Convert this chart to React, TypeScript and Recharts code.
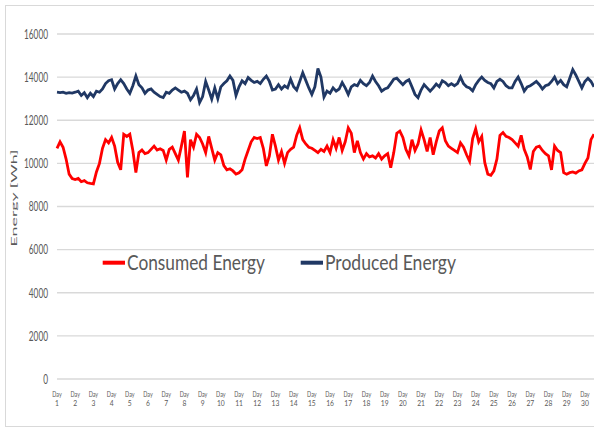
import React from 'react';
import { LineChart, Line, XAxis, YAxis, CartesianGrid, Legend } from 'recharts';

// 6 samples per day (every 4 hours), Day 1 .. Day 30 (+ a little)
const produced: number[] = [
  13300, 13280, 13300, 13250, 13280, 13260,
  13300, 13350, 13150, 13280, 13050, 13250,
  13100, 13350, 13300, 13450, 13700, 13830,
  13880, 13450, 13700, 13880, 13700, 13450,
  13250, 13600, 14050, 13650, 13500, 13250,
  13400, 13450, 13300, 13200, 13100, 13050,
  13300, 13250, 13400, 13500, 13400, 13300,
  13350, 13250, 12950, 13150, 13450, 12820,
  13100, 13800, 13400, 12980, 13500, 13000,
  13550, 13700, 13830, 14050, 13850, 13150,
  13550, 13830, 13700, 13980, 13850, 13750,
  13800, 13700, 13900, 14050, 13800, 13400,
  13450, 13650, 13450, 13600, 13500, 13900,
  13550, 13400, 13800, 14200, 13850, 13500,
  13200, 13550, 14400, 14000, 13080, 13350,
  13250, 13500, 13350, 13450, 13750, 13500,
  13200, 13550, 13650, 13600, 13850, 13700,
  13600, 13750, 14050, 13800, 13600, 13350,
  13450, 13500, 13700, 13900, 13950, 13800,
  13650, 13800, 13880, 13550, 13200, 13050,
  13400, 13650, 13500, 13350, 13500, 13680,
  13550, 13830, 13750, 13600, 13700, 13600,
  13700, 14000, 13700, 13550, 13500, 13360,
  13650, 13850, 14000, 13850, 13750, 13700,
  13500, 13800, 13900, 13800, 13600, 13500,
  13500, 13800, 14000, 13700, 13350, 13550,
  13600, 13700, 13800, 13650, 13450, 13600,
  13650, 13800, 14000, 13700, 13850, 13650,
  13550, 13950, 14350, 14100, 13800, 13500,
  13800, 13950, 13800, 13550,
];

const consumed: number[] = [
  10700, 11000, 10750, 10200, 9500, 9300,
  9250, 9300, 9150, 9200, 9100, 9070,
  9050, 9600, 10000, 10700, 11100, 10950,
  11200, 10800, 10050, 9700, 11350, 11250,
  11350, 10600, 9570, 10500, 10620, 10450,
  10500, 10650, 10800, 10620, 10680, 10600,
  10150, 10650, 10750, 10450, 10150, 10800,
  11500, 9350, 11100, 10750, 11350, 11200,
  10900, 10500, 11250, 10700, 10150, 10500,
  10400, 9900, 9700, 9750, 9650, 9500,
  9560, 9700, 10200, 10600, 11000, 11200,
  11150, 11200, 10700, 9880, 10350, 11350,
  10800, 10150, 10550, 10000, 10500, 10650,
  10750, 11300, 11650, 11100, 10900, 10750,
  10700, 10600, 10500, 10650, 10550, 10800,
  10500, 11100, 10700, 11200, 10600, 11000,
  11650, 11400, 10500, 11050, 10500, 10200,
  10450, 10300, 10350, 10250, 10450, 10200,
  10350, 10450, 9800, 10500, 11400, 11500,
  11200, 10650, 10350, 11100, 10600, 10900,
  11550, 11100, 10550, 11200, 10400, 11000,
  11500, 11650, 11050, 10800, 10700, 10600,
  10500, 10950, 10750, 10400, 10100, 11150,
  11600, 11000, 11250, 10030, 9500, 9450,
  9650, 10200, 11300, 11430, 11250, 11200,
  11100, 10950, 10800, 11300, 10650, 10300,
  9720, 10550, 10750, 10800, 10600, 10450,
  10350, 9700, 10800, 10600, 10500, 9570,
  9500, 9570, 9600, 9550, 9650, 9700,
  10000, 10250, 11100, 11350,
];

const dayLabels: string[] = [
  '1', '2', '3', '4', '5', '6', '7', '8', '9', '10',
  '11', '12', '13', '14', '15', '16', '17', '18', '19', '20',
  '21', '22', '23', '24', '25', '26', '27', '28', '29', '30',
];
const samplesPerDay = 6;
const yTicks: number[] = [0, 2000, 4000, 6000, 8000, 10000, 12000, 14000, 16000];

const data = produced.map((p, i) => ({ i, consumed: consumed[i], produced: p }));
const dayTicks = dayLabels.map((_, d) => d * samplesPerDay);

const FONT = 'Lato, "Open Sans", sans-serif';
const GRAY = '#595959';
const RED = '#ff0000';
const NAVY = '#203864';

const YTick = (props: any) => {
  const { x, y, payload } = props;
  const s = String(payload.value);
  return (
    <text x={x - 1} y={y} dy={4.8} textAnchor="end" fontFamily={FONT} fontSize={13.5} fill={GRAY}
      textLength={s.length * 4.8} lengthAdjust="spacingAndGlyphs">{s}</text>
  );
};

const XTick = (props: any) => {
  const { x, y, payload } = props;
  const label = dayLabels[Math.round(payload.value / samplesPerDay)];
  return (
    <g>
      <text x={x} y={y} dy={9.5} textAnchor="middle" fontFamily={FONT} fontSize={8} fill={GRAY}
        textLength={9.5} lengthAdjust="spacingAndGlyphs">Day</text>
      <text x={x} y={y} dy={19} textAnchor="middle" fontFamily={FONT} fontSize={8} fill={GRAY}
        textLength={label.length * 3.9} lengthAdjust="spacingAndGlyphs">{label}</text>
    </g>
  );
};

const YLabel = () => (
  <text transform="translate(16.5,198) rotate(-90) scale(1,0.62)" textAnchor="middle" fontFamily={FONT}
    fontSize={12} fill={GRAY} textLength={97} lengthAdjust="spacingAndGlyphs">Energy [Wh]</text>
);

const legendTextWidth: Record<string, number> = { 'Consumed Energy': 138, 'Produced Energy': 131 };

const LegendContent = (props: any) => {
  const { payload } = props;
  return (
    <svg width={400} height={34} style={{ display: 'block' }}>
      {(payload || []).map((item: any, k: number) => {
        const ox = k * 198;
        return (
          <g key={item.value}>
            <line x1={ox + 7.7} x2={ox + 30} y1={14.7} y2={14.7} stroke={item.color} strokeWidth={4} />
            <text x={ox + 32} y={22} fontFamily={FONT} fontSize={21} fill={GRAY}
              textLength={legendTextWidth[item.value] || 130} lengthAdjust="spacingAndGlyphs">{item.value}</text>
          </g>
        );
      })}
    </svg>
  );
};

export default function App() {
  return (
    <div style={{ position: 'fixed', left: 0, top: 0, width: 594, height: 432, overflow: 'hidden', background: '#fff' }}>
      <div style={{ position: 'absolute', left: 5, top: 5, width: 620, height: 422, border: '1.5px solid #d9d9d9', boxSizing: 'border-box' }} />
      <div style={{ position: 'absolute', left: 0, top: 0 }}>
        <LineChart width={594} height={432} data={data} margin={{ top: 34, right: 0, bottom: 0, left: 0 }}>
          <CartesianGrid vertical={false} stroke="#d9d9d9" strokeWidth={1.3} />
          <XAxis dataKey="i" type="number" domain={[0, produced.length - 1]} ticks={dayTicks}
            axisLine={false} tickLine={false} height={53} tick={<XTick />} interval={0} />
          <YAxis domain={[0, 16000]} ticks={yTicks} axisLine={false} tickLine={false} width={57}
            tick={<YTick />} label={<YLabel />} interval={0} />
          <Legend verticalAlign="middle" layout="horizontal" content={<LegendContent />}
            wrapperStyle={{ position: 'absolute', top: 248, left: 95, width: 400, height: 34 }} />
          <Line type="linear" dataKey="consumed" name="Consumed Energy" stroke={RED} strokeWidth={2.8}
            dot={false} isAnimationActive={false} />
          <Line type="linear" dataKey="produced" name="Produced Energy" stroke={NAVY} strokeWidth={2.8}
            dot={false} isAnimationActive={false} />
        </LineChart>
      </div>
    </div>
  );
}
